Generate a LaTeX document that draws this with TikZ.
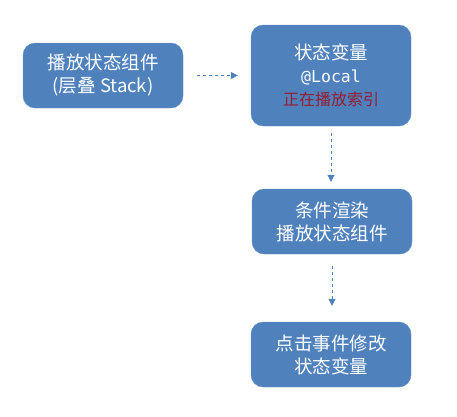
\documentclass[tikz,border=0pt]{standalone}
\usepackage{fontspec}
\setmainfont{Noto Sans CJK SC}
\setmonofont{DejaVu Sans Mono}
\usetikzlibrary{arrows.meta}
\definecolor{boxblue}{RGB}{79,129,189}
\definecolor{idxred}{RGB}{150,30,50}

\begin{document}
\begin{tikzpicture}[x=1pt, y=-1pt,
  box/.style={fill=boxblue, draw=boxblue!85!white, rounded corners=12pt, text=white, align=center, inner sep=0pt, minimum width=160pt, minimum height=65pt, font=\fontsize{18.5}{23}\selectfont},
  flow/.style={-{Triangle[length=7pt, width=7pt]}, boxblue, dashed, line width=1pt}]
  \useasboundingbox (0,0) rectangle (457,416);

  \node[box] (play) at (103,75.5) {播放状态组件\\(层叠 Stack)};
  \node[box, minimum height=101pt] (state) at (331,75.5) {状态变量\\\ttfamily\fontsize{16.5}{22}\selectfont @Local\\{\color{idxred}\fontsize{16}{21}\selectfont 正在播放索引}};
  \node[box] (render) at (332,221.5) {条件渲染\\播放状态组件};
  \node[box] (click) at (331,354.5) {点击事件修改\\状态变量};

  \draw[flow, shorten <= 14pt, shorten >= 13pt] (play) -- (state);
  \draw[flow, shorten <= 7pt, shorten >= 7pt] (state.south) -- (state.south |- render.north);
  \draw[flow, shorten <= 12pt, shorten >= 16pt] (render.south) -- (render.south |- click.north);
\end{tikzpicture}
\end{document}
